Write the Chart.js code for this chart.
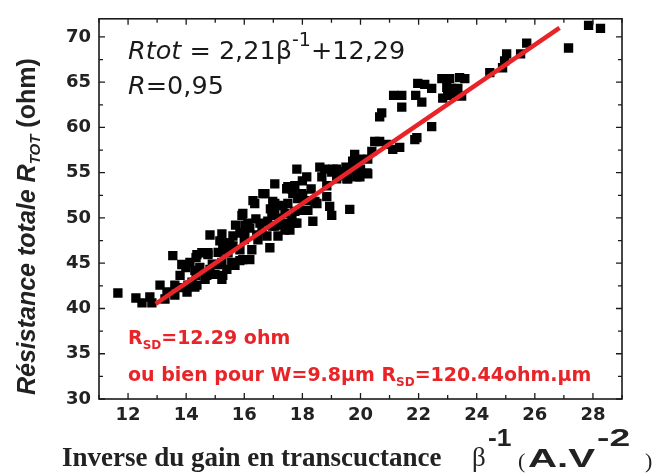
<!DOCTYPE html>
<html>
<head>
  <style>
    body { margin: 0; background: #fff; }
    canvas { display: block; }
  </style>
</head>
<body>
  <canvas id="chart" width="656" height="473"></canvas>

  <script src="https://cdn.jsdelivr.net/npm/chart.js"></script>
  <script>
    const betaInv = [
      11.65, 12.27, 12.48, 12.75, 12.82, 13.10, 13.27, 13.34, 13.61, 13.61,
      13.79, 13.54, 14.03, 14.06, 14.37, 13.85, 14.13, 14.37, 14.54, 14.75,
      14.30, 14.71, 14.47, 14.82, 15.23, 15.33, 15.26, 15.23, 15.23, 15.50,
      15.61, 15.85, 15.95, 16.12, 16.30, 16.64, 16.88, 16.19, 15.95, 15.85,
      15.68, 15.40, 16.43, 16.54, 16.78, 16.98, 16.95, 17.05, 17.05, 17.33,
      17.40, 17.57, 17.50, 17.64, 17.81, 17.74, 16.02, 16.19, 16.02, 15.92,
      16.36, 16.81, 16.47, 16.26, 15.85, 15.57, 15.09, 14.75, 14.34, 13.99,
      14.82, 14.99, 15.26, 14.34, 14.20, 14.30, 14.65, 15.44, 15.61, 15.33,
      15.16, 18.15, 18.60, 18.77, 19.01, 19.18, 18.67, 18.84, 17.74, 17.67,
      17.98, 17.84, 18.15, 18.43, 18.84, 18.94, 19.01, 18.36, 16.71, 16.98,
      17.05, 17.40, 17.74, 17.64, 17.81, 17.29, 17.05, 16.61, 17.16, 19.29,
      19.80, 19.73, 19.98, 20.49, 20.66, 20.90, 21.11, 21.35, 21.87, 20.39,
      20.25, 19.98, 20.25, 19.56, 19.39, 19.22, 19.63, 18.50, 17.46, 18.01,
      18.19, 17.91, 17.46, 17.22, 20.66, 19.05, 19.53, 19.70, 20.22, 19.18,
      19.53, 19.87, 21.97, 22.21, 22.45, 22.80, 23.07, 23.41, 23.59, 22.97,
      23.14, 23.35, 22.83, 23.00, 23.17, 23.48, 21.14, 21.42, 21.90, 22.11,
      21.42, 20.73, 22.45, 21.94, 24.45, 24.89, 24.96, 25.03, 25.51, 25.72,
      27.16, 27.85, 28.26,
      16.00, 16.40, 15.10, 14.90, 17.50, 18.30, 19.50, 13.90, 15.70, 16.90,
      18.00, 20.00
    ];
    const rTot = [
      41.71, 41.16, 40.62, 41.27, 40.62, 42.58, 41.05, 41.82, 41.49, 42.58,
      43.66, 45.84, 41.82, 42.58, 42.58, 44.86, 45.08, 45.95, 46.16, 46.16,
      44.21, 43.66, 44.53, 48.12, 48.23, 47.25, 46.49, 45.08, 43.23, 47.25,
      48.01, 48.34, 50.51, 49.42, 51.92, 52.68, 46.71, 45.40, 45.40, 46.49,
      44.76, 44.32, 48.12, 49.42, 48.01, 49.10, 50.29, 53.77, 51.60, 51.38,
      48.66, 48.66, 53.45, 53.23, 55.40, 49.42, 49.21, 48.88, 48.34, 50.29,
      51.60, 49.64, 47.58, 46.49, 45.29, 45.08, 44.86, 45.95, 45.62, 44.53,
      44.32, 43.77, 43.66, 43.66, 42.90, 42.36, 43.23, 46.16, 46.92, 46.92,
      47.47, 54.53, 55.62, 55.40, 55.08, 55.40, 54.53, 53.56, 53.56, 52.68,
      52.68, 52.14, 51.92, 51.82, 52.36, 51.27, 50.29, 49.64, 52.68, 51.82,
      50.73, 50.51, 50.73, 49.75, 49.42, 49.21, 49.10, 48.55, 48.01, 55.08,
      57.03, 56.27, 56.49, 58.45, 58.45, 58.12, 57.58, 57.79, 58.66, 57.36,
      56.49, 54.53, 54.86, 54.32, 55.08, 54.64, 50.95, 51.60, 53.23, 52.46,
      50.84, 50.84, 49.42, 49.97, 61.16, 55.40, 54.86, 55.40, 54.97, 54.32,
      54.32, 54.53, 64.86, 64.75, 64.32, 65.40, 65.40, 65.51, 65.40, 64.42,
      64.32, 64.32, 63.23, 63.55, 63.77, 63.45, 63.55, 63.55, 63.55, 62.79,
      62.25, 61.60, 60.08, 58.88, 66.05, 66.59, 67.35, 68.12, 68.12, 69.32,
      68.77, 71.27, 70.95,
      47.60, 49.90, 46.20, 44.90, 51.60, 53.20, 55.60, 42.30, 49.20, 51.00,
      54.10, 55.40
    ];

    // linear fit as drawn in the figure
    const fitX = [12.95, 26.85];
    const fitY = [40.5, 71.0];

    const xTicks = [12, 14, 16, 18, 20, 22, 24, 26, 28];
    const xMinor = [11, 13, 15, 17, 19, 21, 23, 25, 27, 29];
    const yTicks = [30, 35, 40, 45, 50, 55, 60, 65, 70];
    const yMinor = [32.5, 37.5, 42.5, 47.5, 52.5, 57.5, 62.5, 67.5];

    const red = 'rgb(232, 36, 40)';
    const ink = '#1a1a1a';

    // draws a row of text pieces, sx stretches the row horizontally
    function drawRuns(ctx, x, y, runs, sx) {
      ctx.save();
      ctx.translate(x, y);
      ctx.scale(sx || 1, 1);
      let cx = 0;
      runs.forEach(r => {
        ctx.font = r.font;
        ctx.fillStyle = r.color || ink;
        ctx.fillText(r.text, cx, r.dy || 0);
        cx += ctx.measureText(r.text).width;
      });
      ctx.restore();
    }

    const framePlugin = {
      id: 'frame',
      afterDraw(chart) {
        const ctx = chart.ctx;
        const a = chart.chartArea;
        const xs = chart.scales.x, ys = chart.scales.y;
        ctx.save();
        ctx.strokeStyle = ink;
        ctx.lineWidth = 1.6;
        ctx.strokeRect(a.left, a.top, a.right - a.left, a.bottom - a.top);

        ctx.lineWidth = 1.3;
        ctx.beginPath();
        const tickX = (v, len) => {
          const p = xs.getPixelForValue(v);
          ctx.moveTo(p, a.bottom); ctx.lineTo(p, a.bottom - len);
          ctx.moveTo(p, a.top); ctx.lineTo(p, a.top + len);
        };
        const tickY = (v, len) => {
          const p = ys.getPixelForValue(v);
          ctx.moveTo(a.left, p); ctx.lineTo(a.left + len, p);
          ctx.moveTo(a.right, p); ctx.lineTo(a.right - len, p);
        };
        xTicks.forEach(v => tickX(v, 6));
        xMinor.forEach(v => tickX(v, 4));
        yTicks.forEach(v => tickY(v, 6));
        yMinor.forEach(v => tickY(v, 4));
        ctx.stroke();

        ctx.textBaseline = 'alphabetic';
        ctx.textAlign = 'left';

        // fit equation
        drawRuns(ctx, 128, 59, [
          { text: 'Rtot', font: 'italic 25.5px "DejaVu Sans"' },
          { text: ' = 2,21\u03b2', font: '25.5px "DejaVu Sans"' },
          { text: '-1', font: '19px "DejaVu Sans"', dy: -13 },
          { text: '+12,29', font: '25.5px "DejaVu Sans"' }
        ]);
        drawRuns(ctx, 128, 94, [
          { text: 'R', font: 'italic 25.5px "DejaVu Sans"' },
          { text: '=0,95', font: '25.5px "DejaVu Sans"' }
        ]);

        // red notes
        drawRuns(ctx, 128, 344, [
          { text: 'R', font: 'bold 19px "DejaVu Sans"', color: red },
          { text: 'SD', font: 'bold 12px "DejaVu Sans"', color: red, dy: 5 },
          { text: '=12.29 ohm', font: 'bold 19px "DejaVu Sans"', color: red }
        ]);
        drawRuns(ctx, 128, 381, [
          { text: 'ou bien pour W=9.8\u00b5m R', font: 'bold 19px "DejaVu Sans"', color: red },
          { text: 'SD', font: 'bold 12px "DejaVu Sans"', color: red, dy: 5 },
          { text: '=120.44ohm.\u00b5m', font: 'bold 19px "DejaVu Sans"', color: red }
        ]);

        // x title
        drawRuns(ctx, 62, 466, [
          { text: 'Inverse du gain en transcuctance', font: 'bold 27px "Liberation Serif"', color: '#222' }
        ]);
        drawRuns(ctx, 472, 466, [{ text: '\u03b2', font: '27px "Liberation Serif"', color: '#222' }]);
        drawRuns(ctx, 488, 446, [{ text: '-1', font: 'bold 24px Arial', color: '#222' }], 1.1);
        drawRuns(ctx, 518, 468, [{ text: '(', font: '22px "Liberation Serif"', color: '#222' }]);
        drawRuns(ctx, 528, 467, [{ text: 'A.V', font: 'bold 26px Arial', color: '#222' }], 1.55);
        drawRuns(ctx, 597, 446, [{ text: '-2', font: 'bold 24px Arial', color: '#222' }], 1.55);
        drawRuns(ctx, 645, 468, [{ text: ')', font: '22px "Liberation Serif"', color: '#222' }]);

        // y title, rotated
        ctx.translate(35, 395);
        ctx.rotate(-Math.PI / 2);
        drawRuns(ctx, 0, 0, [
          { text: 'R\u00e9sistance totale R', font: 'italic bold 25px Arial', color: '#222' },
          { text: 'TOT', font: 'italic bold 15px Arial', color: '#222', dy: 5 },
          { text: ' (ohm)', font: 'bold 25px Arial', color: '#222' }
        ]);
        ctx.restore();
      }
    };

    new Chart(document.getElementById('chart'), {
      type: 'scatter',
      data: {
        datasets: [
          {
            type: 'line',
            label: 'fit',
            data: fitX.map((x, i) => ({ x: x, y: fitY[i] })),
            borderColor: red,
            borderWidth: 4.5,
            pointRadius: 0,
            fill: false,
            order: 0
          },
          {
            label: 'Rtot',
            data: betaInv.map((x, i) => ({ x: x, y: rTot[i] })),
            pointStyle: 'rect',
            pointRadius: 6.6,
            borderWidth: 0,
            backgroundColor: '#000',
            order: 1
          }
        ]
      },
      options: {
        responsive: false,
        animation: false,
        devicePixelRatio: 1,
        layout: { padding: { top: 12, right: 34, left: 0, bottom: 0 } },
        plugins: { legend: { display: false }, tooltip: { enabled: false } },
        scales: {
          x: {
            type: 'linear',
            min: 11,
            max: 29,
            afterBuildTicks: s => { s.ticks = xTicks.map(v => ({ value: v })); },
            afterFit: s => { s.height = 74; },
            grid: { display: false, drawTicks: false },
            border: { display: false },
            ticks: { color: '#222', padding: 6, font: { family: 'DejaVu Sans', weight: 'bold', size: 18 } }
          },
          y: {
            type: 'linear',
            min: 30,
            max: 72,
            afterBuildTicks: s => { s.ticks = yTicks.map(v => ({ value: v })); },
            afterFit: s => { s.width = 99; },
            grid: { display: false, drawTicks: false },
            border: { display: false },
            ticks: { color: '#222', padding: 8, font: { family: 'DejaVu Sans', weight: 'bold', size: 18 } }
          }
        }
      },
      plugins: [framePlugin]
    });
  </script>
</body>
</html>
